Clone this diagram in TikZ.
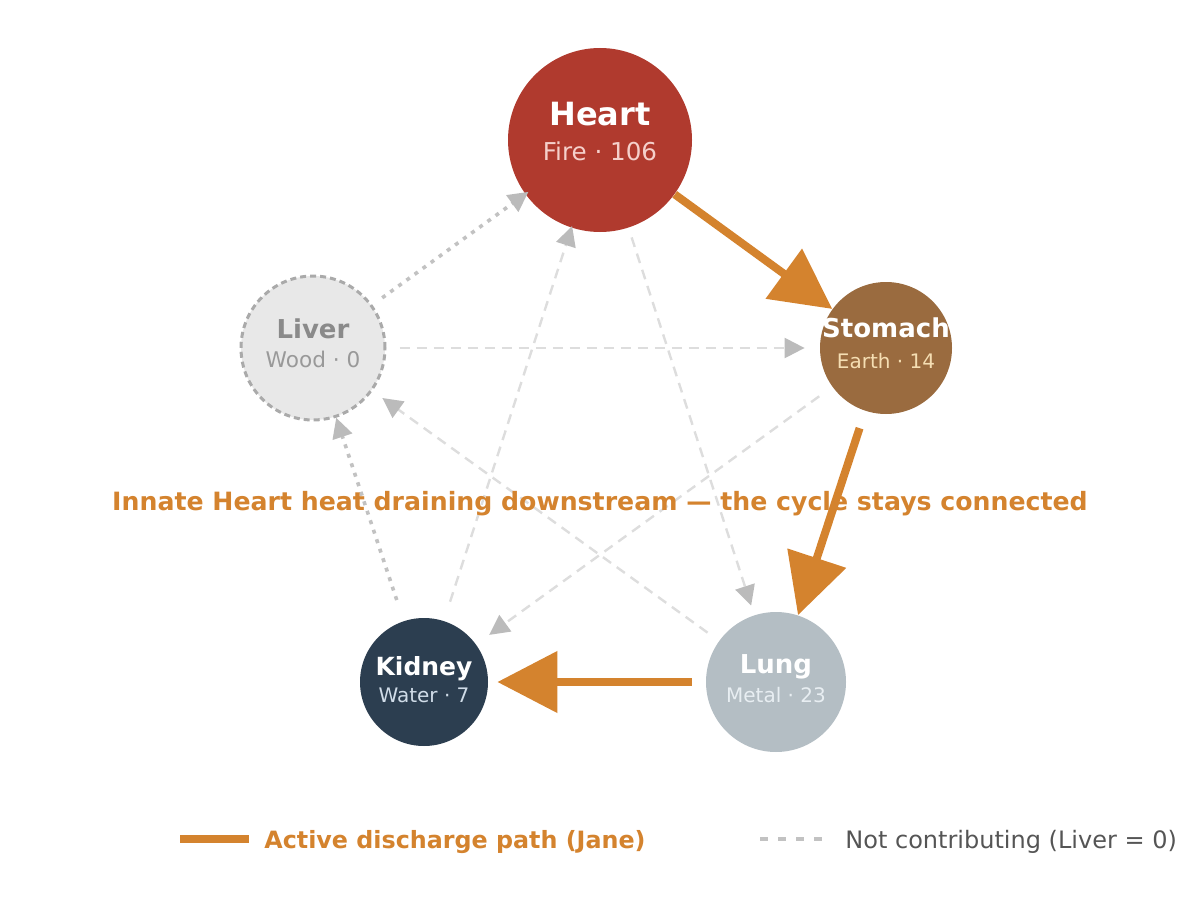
\documentclass[tikz,border=0pt]{standalone}
\usepackage{fontspec}
\setmainfont{DejaVu Sans}
\usetikzlibrary{arrows.meta}

\definecolor{drain}{HTML}{D4832E}
\definecolor{fire}{HTML}{B03A2E}
\definecolor{earth}{HTML}{9A6B3F}
\definecolor{metal}{HTML}{B4BEC4}
\definecolor{water}{HTML}{2C3E50}
\definecolor{wood}{HTML}{E8E8E8}
\definecolor{woodline}{HTML}{AAAAAA}
\definecolor{idle}{HTML}{DDDDDD}
\definecolor{idletip}{HTML}{BBBBBB}
\definecolor{idledot}{HTML}{C2C2C2}

\tikzset{
  organ/.style={circle, inner sep=0pt, draw=none},
  organname/.style={anchor=base, text=white, font=\bfseries\fontsize{13}{15}\selectfont},
  element/.style={anchor=base, font=\fontsize{10}{12}\selectfont},
  active/.style={draw=drain, line width=4pt, -{Triangle[length=30pt,width=30pt]}},
  ctrl/.style={draw=idle, line width=1.2pt, dash pattern=on 5pt off 3.5pt,
    -{Triangle[length=10pt,width=10pt,color=idletip]}},
  feed/.style={draw=idledot, line width=1.8pt, dash pattern=on 2pt off 3pt,
    -{Triangle[length=10pt,width=10pt,color=idletip]}}
}

\begin{document}
\begin{tikzpicture}[x=0.5pt,y=-0.5pt]
\useasboundingbox (0,0) rectangle (1200,920);

% organs
\node[organ, fill=fire, minimum size=92pt] (heart) at (600,140) {};
\node[organ, fill=wood, draw=woodline, line width=1.5pt, dash pattern=on 3pt off 2pt, minimum size=72pt] (liver) at (313,348) {};
\node[organ, fill=earth, minimum size=66pt] (stomach) at (886,348) {};
\node[organ, fill=metal, minimum size=70pt] (lung) at (776,682) {};
\node[organ, fill=water, minimum size=64pt] (kidney) at (424,682) {};

\node[organname, font=\bfseries\fontsize{16}{18}\selectfont] (heart-n) at (600,126) {Heart};
\node[element, text={rgb,255:red,245;green,208;blue,203}, font=\fontsize{12.3}{14}\selectfont] (heart-e) at (600,161) {Fire · 106};
\node[organname, text={rgb,255:red,138;green,138;blue,138}] (liver-n) at (313,338) {Liver};
\node[element, text={rgb,255:red,153;green,153;blue,153}, font=\fontsize{10.8}{12}\selectfont] (liver-e) at (313,367) {Wood · 0};
\node[organname] (stomach-n) at (886,337) {Stomach};
\node[element, text={rgb,255:red,245;green,222;blue,179}] (stomach-e) at (886,368) {Earth · 14};
\node[organname] (lung-n) at (776,673) {Lung};
\node[element, text={rgb,255:red,232;green,238;blue,242}] (lung-e) at (776,702) {Metal · 23};
\node[organname, font=\bfseries\fontsize{12.5}{15}\selectfont] (kidney-n) at (424,675) {Kidney};
\node[element, text={rgb,255:red,208;green,220;blue,232}] (kidney-e) at (424,702) {Water · 7};

% idle links
\draw[ctrl, shorten <=6.5pt, shorten >=7.5pt] (liver) -- (stomach);
\draw[ctrl, shorten <=10pt, shorten >=-1pt] (kidney) -- (heart);
\draw[ctrl, shorten <=5pt, shorten >=5pt] (heart) -- (lung);
\draw[ctrl, shorten <=7pt, shorten >=6pt] (lung) -- (liver);
\draw[ctrl, shorten <=8pt, shorten >=8pt] (stomach) -- (kidney);
\draw[feed, shorten <=6pt, shorten >=-2pt] (liver) -- (heart);
\draw[feed, shorten <=11pt, shorten >=0pt] (kidney) -- (liver);

% discharge path
\draw[active] (heart) -- (stomach);
\draw[active, shorten <=9pt] (stomach) -- (lung);
\draw[active, shorten <=7pt, shorten >=4.5pt] (lung) -- (kidney);

\node[anchor=base, text=drain, font=\bfseries\fontsize{12.6}{14}\selectfont] (caption) at (600,510)
  {Innate Heart heat draining downstream — the cycle stays connected};

% legend
\coordinate (key-a1) at (180,839);
\coordinate (key-a2) at (249,839);
\coordinate (key-b1) at (760,839);
\coordinate (key-b2) at (824,839);
\draw[draw=drain, line width=4pt] (key-a1) -- (key-a2);
\draw[draw=idledot, line width=2pt, dash pattern=on 4pt off 5pt] (key-b1) -- (key-b2);
\node[anchor=base west, text=drain, font=\bfseries\fontsize{11.9}{14}\selectfont, inner sep=0pt] (key-a) at (264,848) {Active discharge path (Jane)};
\node[anchor=base west, text={rgb,255:red,85;green,85;blue,85}, font=\fontsize{12}{14}\selectfont, inner sep=0pt] (key-b) at (845,848) {Not contributing (Liver = 0)};
\end{tikzpicture}
\end{document}
